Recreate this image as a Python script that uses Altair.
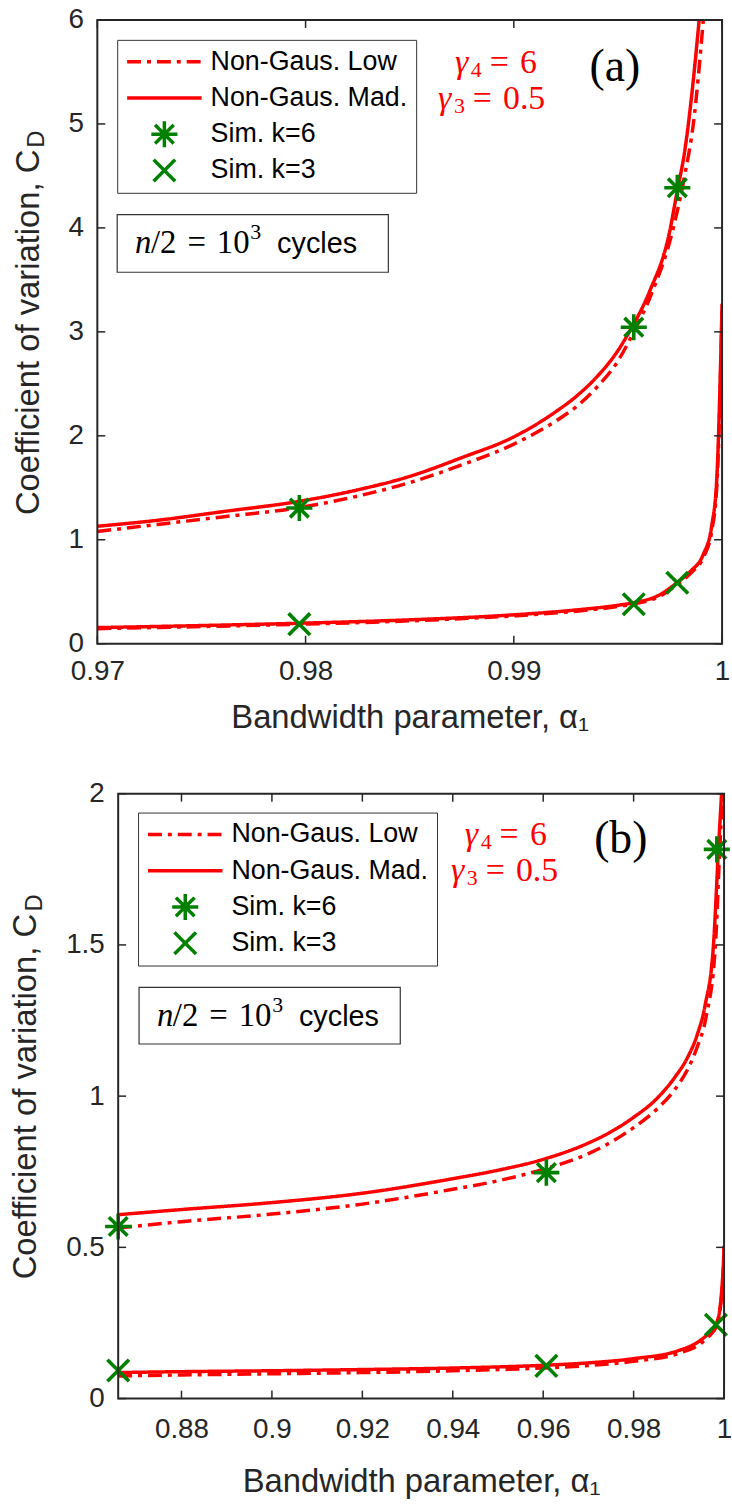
import altair as alt
import pandas as pd

SANS = "Liberation Sans"
SERIF = "Liberation Serif"
AX = "#262626"
RED = "#ff0000"
GREEN = "#008000"

SERIES = ["Non-Gaus. Low", "Non-Gaus. Mad.", "Sim. k=6", "Sim. k=3"]
SERIES_COLORS = [RED, RED, GREEN, GREEN]
SERIES_DASHES = [[14, 6, 4, 6], [1, 0], [1, 0], [1, 0]]
ASTERISK = "M-0.35,0L0.35,0M0,-0.35L0,0.35M-0.25,-0.25L0.25,0.25M-0.25,0.25L0.25,-0.25"
CROSS = "M-0.29,-0.29L0.29,0.29M-0.29,0.29L0.29,-0.29"
SERIES_SHAPES = ["stroke", "stroke", ASTERISK, CROSS]

# ---------------- panel (a) ----------------
A_UP_MAD_X = [0.970, 0.973, 0.976, 0.9797, 0.9825, 0.985, 0.9875, 0.990, 0.992, 0.993,
              0.994, 0.995, 0.9956, 0.9965, 0.9975, 0.99785, 0.9982, 0.9985, 0.9989]
A_UP_MAD_Y = [1.13, 1.19, 1.27, 1.37, 1.48, 1.61, 1.79, 1.99, 2.23, 2.38,
              2.57, 2.82, 3.02, 3.38, 3.98, 4.36, 4.73, 5.20, 6.00]
A_UP_LOW_X = [0.970, 0.973, 0.976, 0.9797, 0.9825, 0.985, 0.9875, 0.990, 0.992, 0.993,
              0.994, 0.995, 0.99576, 0.9966, 0.99766, 0.9982, 0.99862, 0.9991]
A_UP_LOW_Y = [1.08, 1.15, 1.22, 1.31, 1.42, 1.55, 1.72, 1.92, 2.14, 2.28,
              2.47, 2.72, 3.00, 3.36, 4.00, 4.50, 5.00, 6.00]
A_LO_MAD_X = [0.970, 0.975, 0.9797, 0.985, 0.990, 0.993, 0.995, 0.99576, 0.997, 0.99785,
              0.9985, 0.9991, 0.9995, 0.99975, 0.99983, 0.99991, 1.0]
A_LO_MAD_Y = [0.155, 0.175, 0.197, 0.230, 0.278, 0.325, 0.370, 0.395, 0.470, 0.590,
              0.700, 0.860, 1.130, 1.600, 2.000, 2.550, 3.270]
A_LO_LOW_X = [0.970, 0.975, 0.9797, 0.985, 0.990, 0.993, 0.995, 0.99576, 0.997, 0.99785,
              0.9985, 0.9991, 0.9995, 0.99975, 0.99983, 0.99991, 1.0]
A_LO_LOW_Y = [0.145, 0.165, 0.187, 0.220, 0.268, 0.313, 0.358, 0.383, 0.455, 0.570,
              0.680, 0.830, 1.080, 1.520, 1.900, 2.450, 3.200]
A_SIM_X = [0.9797, 0.99576, 0.99785]
A_SIM6_Y = [1.305, 3.045, 4.386]
A_SIM3_Y = [0.188, 0.380, 0.587]
A_XTICKS = [0.97, 0.98, 0.99, 1.0]
A_YTICKS = [0, 1, 2, 3, 4, 5, 6]

# ---------------- panel (b) ----------------
B_UP_MAD_X = [0.866, 0.88, 0.90, 0.92, 0.94, 0.95, 0.96, 0.97, 0.975, 0.98,
              0.985, 0.989, 0.992, 0.994, 0.9958, 0.99766, 0.99876, 0.99945]
B_UP_MAD_Y = [0.608, 0.625, 0.648, 0.679, 0.727, 0.755, 0.791, 0.845, 0.882, 0.930,
              0.990, 1.060, 1.130, 1.200, 1.300, 1.500, 1.816, 2.000]
B_UP_LOW_X = [0.866, 0.88, 0.90, 0.92, 0.94, 0.95, 0.96, 0.97, 0.975, 0.98,
              0.985, 0.989, 0.992, 0.994, 0.996, 0.9981, 0.9990, 0.99965]
B_UP_LOW_Y = [0.564, 0.585, 0.610, 0.643, 0.692, 0.720, 0.758, 0.810, 0.848, 0.896,
              0.955, 1.020, 1.090, 1.160, 1.260, 1.500, 1.800, 2.000]
B_LO_MAD_X = [0.866, 0.88, 0.90, 0.92, 0.94, 0.96, 0.97, 0.98, 0.99, 0.995,
              0.9972, 0.9982, 0.9991, 0.9996, 0.9999, 1.0]
B_LO_MAD_Y = [0.086, 0.089, 0.092, 0.096, 0.101, 0.110, 0.118, 0.132, 0.159, 0.195,
              0.225, 0.245, 0.300, 0.380, 0.460, 0.505]
B_LO_LOW_X = [0.866, 0.88, 0.90, 0.92, 0.94, 0.96, 0.97, 0.98, 0.99, 0.995,
              0.9972, 0.9982, 0.9991, 0.9996, 0.9999, 1.0]
B_LO_LOW_Y = [0.075, 0.078, 0.082, 0.086, 0.092, 0.101, 0.109, 0.123, 0.150, 0.184,
              0.215, 0.236, 0.290, 0.370, 0.450, 0.500]
B_SIM6_X = [0.866, 0.9607, 0.9984]
B_SIM6_Y = [0.569, 0.747, 1.816]
B_SIM3_X = [0.866, 0.9607, 0.9982]
B_SIM3_Y = [0.093, 0.108, 0.244]
B_XTICKS = [0.88, 0.90, 0.92, 0.94, 0.96, 0.98, 1.0]
B_YTICKS = [0, 0.5, 1.0, 1.5, 2.0]

ONE = pd.DataFrame({"k": [0]})
THICK = "\u2004"


def lines_frame(parts):
    frames = [pd.DataFrame({"alpha": xs, "C": ys, "series": s, "curve": c}) for s, c, xs, ys in parts]
    return pd.concat(frames, ignore_index=True)


def sims_frame(parts):
    frames = [pd.DataFrame({"alpha": xs, "C": ys, "series": s}) for s, xs, ys in parts]
    return pd.concat(frames, ignore_index=True)


def text(t, x, y, size, font, style="normal", align="left", color="black", angle=0, baseline="middle"):
    return alt.Chart(ONE).mark_text(
        text=t, fontSize=size, font=font, fontStyle=style, align=align,
        baseline=baseline, color=color, angle=angle
    ).encode(x=alt.value(x), y=alt.value(y))


def panel(lines_df, sims_df, xdom, ydom, xticks, yticks, xfmt, yfmt, W, H, x0,
          legxy, box, gam, letter, dsub, xlabpad, xtitlepad):
    xs = alt.Scale(domain=xdom, nice=False, zero=False, range=[x0, W])
    ys = alt.Scale(domain=ydom, nice=False, zero=False)
    xax = alt.Axis(values=xticks, format=xfmt, ticks=False, domain=False, grid=False,
                   labelPadding=xlabpad, labelFlush=False, title="Bandwidth parameter, α₁",
                   titlePadding=xtitlepad)
    yax = alt.Axis(values=yticks, format=yfmt, ticks=False, domain=False, grid=False,
                   labelPadding=14, title="Coefficient of variation, C", titlePadding=23,
                   offset=-x0)
    X = alt.X("alpha:Q", scale=xs, axis=xax)
    Y = alt.Y("C:Q", scale=ys, axis=yax)
    leg = alt.Legend(title=None, orient="none", legendX=legxy[0], legendY=legxy[1], padding=8,
                     strokeColor="#333333", fillColor="white", labelFont=SANS, labelFontSize=27,
                     labelColor="black", symbolSize=5625, symbolStrokeWidth=3.5, clipHeight=28,
                     rowPadding=8.5, labelOffset=7, symbolOffset=0, labelLimit=400)
    color = alt.Color("series:N", scale=alt.Scale(domain=SERIES, range=SERIES_COLORS), legend=leg)
    dash = alt.StrokeDash("series:N", scale=alt.Scale(domain=SERIES, range=SERIES_DASHES), legend=leg)
    shape = alt.Shape("series:N", scale=alt.Scale(domain=SERIES, range=SERIES_SHAPES), legend=leg)

    lines = alt.Chart(lines_df).mark_line(strokeWidth=3.5, interpolate="monotone", clip=True).encode(
        x=X, y=Y, color=color, strokeDash=dash, detail="curve:N")
    pts = alt.Chart(sims_df).mark_point(filled=False, size=5625, strokeWidth=3.6, opacity=1).encode(
        x=X, y=Y, color=color, shape=shape)

    xt = alt.Chart(pd.DataFrame({"alpha": xticks})).mark_rule(color=AX, strokeWidth=1.5)
    yt = alt.Chart(pd.DataFrame({"C": yticks})).mark_rule(color=AX, strokeWidth=1.5)
    ticks = [
        xt.encode(x=X, y=alt.value(H), y2=alt.value(H - 8)),
        xt.encode(x=X, y=alt.value(0), y2=alt.value(8)),
        yt.encode(y=Y, x=alt.value(x0), x2=alt.value(x0 + 8)),
        yt.encode(y=Y, x=alt.value(W), x2=alt.value(W - 8)),
    ]
    frame = alt.Chart(ONE).mark_rect(fill="transparent", stroke=AX, strokeWidth=2).encode(
        x=alt.value(x0), x2=alt.value(W), y=alt.value(0), y2=alt.value(H))

    bx0, by0, bx1, by1 = box
    nbox = alt.Chart(ONE).mark_rect(fill="white", stroke="#333333", strokeWidth=1.2).encode(
        x=alt.value(bx0), x2=alt.value(bx1), y=alt.value(by0), y2=alt.value(by1))
    ty = (by0 + by1) / 2
    tx = bx0 + 18
    ntext = [
        text("n", tx, ty, 33, SERIF, style="italic"),
        text("/2" + THICK + "=" + THICK + "10", tx + 16, ty, 33, SERIF),
        text("3", tx + 116, ty - 11, 22, SERIF),
        text("cycles", tx + 143, ty + 1, 29, SANS),
    ]

    gtext = []
    for (gx, gy), sub, rest in zip(gam, ["4", "3"], ["=" + THICK + "6", "=" + THICK + "0.5"]):
        gtext += [
            text("γ", gx, gy, 34, SERIF, style="italic", color=RED),
            text(sub, gx + 16, gy + 7, 22, SERIF, color=RED),
            text(rest, gx + 35, gy, 34, SERIF, color=RED),
        ]
    lt, lx, ly = letter
    ltext = text(lt, lx, ly, 46, SERIF, align="center")
    dtext = text("D", dsub[0], dsub[1], 24, SANS, align="center", color=AX, angle=270,
                 baseline="alphabetic")

    return alt.layer(lines, pts, *ticks, frame, nbox, *ntext, *gtext, ltext, dtext).properties(
        width=W, height=H)


a_lines = lines_frame([
    ("Non-Gaus. Low", "up", A_UP_LOW_X, A_UP_LOW_Y),
    ("Non-Gaus. Mad.", "up", A_UP_MAD_X, A_UP_MAD_Y),
    ("Non-Gaus. Low", "lo", A_LO_LOW_X, A_LO_LOW_Y),
    ("Non-Gaus. Mad.", "lo", A_LO_MAD_X, A_LO_MAD_Y),
])
a_sims = sims_frame([("Sim. k=6", A_SIM_X, A_SIM6_Y), ("Sim. k=3", A_SIM_X, A_SIM3_Y)])

b_lines = lines_frame([
    ("Non-Gaus. Low", "up", B_UP_LOW_X, B_UP_LOW_Y),
    ("Non-Gaus. Mad.", "up", B_UP_MAD_X, B_UP_MAD_Y),
    ("Non-Gaus. Low", "lo", B_LO_LOW_X, B_LO_LOW_Y),
    ("Non-Gaus. Mad.", "lo", B_LO_MAD_X, B_LO_MAD_Y),
])
b_sims = sims_frame([("Sim. k=6", B_SIM6_X, B_SIM6_Y), ("Sim. k=3", B_SIM3_X, B_SIM3_Y)])

pa = panel(a_lines, a_sims, [0.97, 1.0], [0, 6], A_XTICKS, A_YTICKS, ".2~f", "d",
           629, 628, 0, (20, 20), (20, 196, 293, 254),
           ((360, 43), (343, 80)), ("(a)", 521, 47), (-54, 120), 14, 16)
pb = panel(b_lines, b_sims, [0.866, 1.0], [0, 2], B_XTICKS, B_YTICKS, ".2~f", ".1~f",
           631, 609, 21, (41, 19), (42, 195, 305, 252),
           ((370, 42), (356, 78)), ("(b)", 527, 46), (-56, 110), 17, 23)

chart = alt.vconcat(pa, pb, spacing=46).resolve_scale(
    x="independent", y="independent", color="independent", shape="independent",
    strokeDash="independent"
).resolve_legend(color="independent", shape="independent", strokeDash="independent").properties(
    padding={"left": 10, "top": 1, "right": -6, "bottom": -4}
).configure_view(stroke=None).configure_axis(
    labelFont=SANS, labelFontSize=28, labelColor=AX, titleFont=SANS, titleFontSize=33,
    titleFontWeight="normal", titleColor=AX
)

chart.save("out.html", embed_options={"renderer": "svg", "actions": False})
